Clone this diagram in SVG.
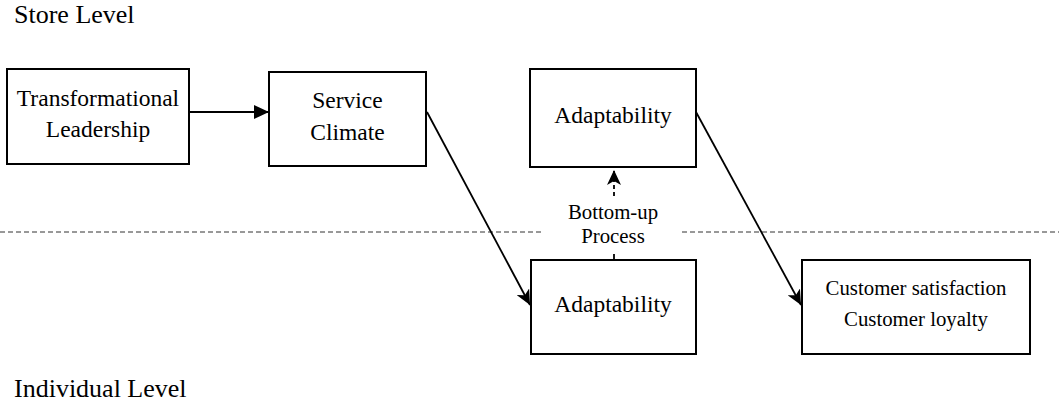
<svg xmlns="http://www.w3.org/2000/svg" width="1059" height="404" viewBox="0 0 1059 404">
  <style>
    text { font-family: 'Liberation Serif', 'DejaVu Serif', serif; fill: #000; }
    .box { fill: #fff; stroke: #000; stroke-width: 2; }
    .lbl { text-anchor: middle; }
    .big { font-size: 23.5px; }
    .small { font-size: 20.8px; }
    .level { font-size: 26px; }
    .edge { fill: none; stroke: #000; stroke-width: 1.8; }
    .divider { fill: none; stroke: #333; stroke-width: 1; stroke-dasharray: 5 3; }
  </style>
  <defs>
    <marker id="tri" viewBox="0 0 15 14" refX="15" refY="7" markerWidth="15" markerHeight="14" markerUnits="userSpaceOnUse" orient="auto">
      <path d="M0,0 L15,7 L0,14 z" fill="#000"/>
    </marker>
    <marker id="notch" viewBox="0 0 15 14" refX="15" refY="7" markerWidth="15" markerHeight="14" markerUnits="userSpaceOnUse" orient="auto">
      <path d="M0,0 L15,7 L0,14 L4,7 z" fill="#000"/>
    </marker>
  </defs>

  <rect width="1059" height="404" fill="#fff"/>

  <!-- level labels -->
  <text class="level" x="14" y="23" font-family="Liberation Serif, serif">Store Level</text>
  <text class="level" x="14" y="397" font-family="Liberation Serif, serif">Individual Level</text>

  <!-- store / individual divider -->
  <g id="divider">
    <line class="divider" x1="0" y1="232" x2="544" y2="232"/>
    <line class="divider" x1="682" y1="232" x2="1059" y2="232"/>
  </g>

  <g id="connectors">
    <line class="edge" x1="189" y1="112" x2="269" y2="112" marker-end="url(#tri)"/>
    <line class="edge" x1="427" y1="112" x2="530" y2="305" marker-end="url(#notch)"/>
    <line class="edge" x1="696" y1="112" x2="801" y2="305" marker-end="url(#notch)"/>
    <!-- bottom-up process -->
    <line class="edge" x1="614" y1="259" x2="614" y2="254" stroke-width="1.5"/>
    <line class="edge" x1="614" y1="196" x2="614" y2="170" stroke-width="1.5" stroke-dasharray="4 3" marker-end="url(#notch)"/>
    <text class="lbl small" x="613" y="219">Bottom-up</text>
    <text class="lbl small" x="613" y="243">Process</text>
  </g>

  <g id="leadership">
    <rect class="box" x="7" y="69" width="182" height="95"/>
    <text class="lbl big" x="98" y="106">Transformational</text>
    <text class="lbl big" x="98" y="137">Leadership</text>
  </g>

  <g id="climate">
    <rect class="box" x="269" y="72" width="157" height="94"/>
    <text class="lbl big" x="347.5" y="108">Service</text>
    <text class="lbl big" x="347.5" y="140">Climate</text>
  </g>

  <g id="adaptability-store">
    <rect class="box" x="530" y="69" width="166" height="98"/>
    <text class="lbl big" x="613" y="123">Adaptability</text>
  </g>

  <g id="adaptability-individual">
    <rect class="box" x="531" y="260" width="165" height="94"/>
    <text class="lbl big" x="613" y="312">Adaptability</text>
  </g>

  <g id="customer">
    <rect class="box" x="802" y="260" width="228" height="94"/>
    <text class="lbl small" x="916" y="295">Customer satisfaction</text>
    <text class="lbl small" x="916" y="326">Customer loyalty</text>
  </g>
</svg>
